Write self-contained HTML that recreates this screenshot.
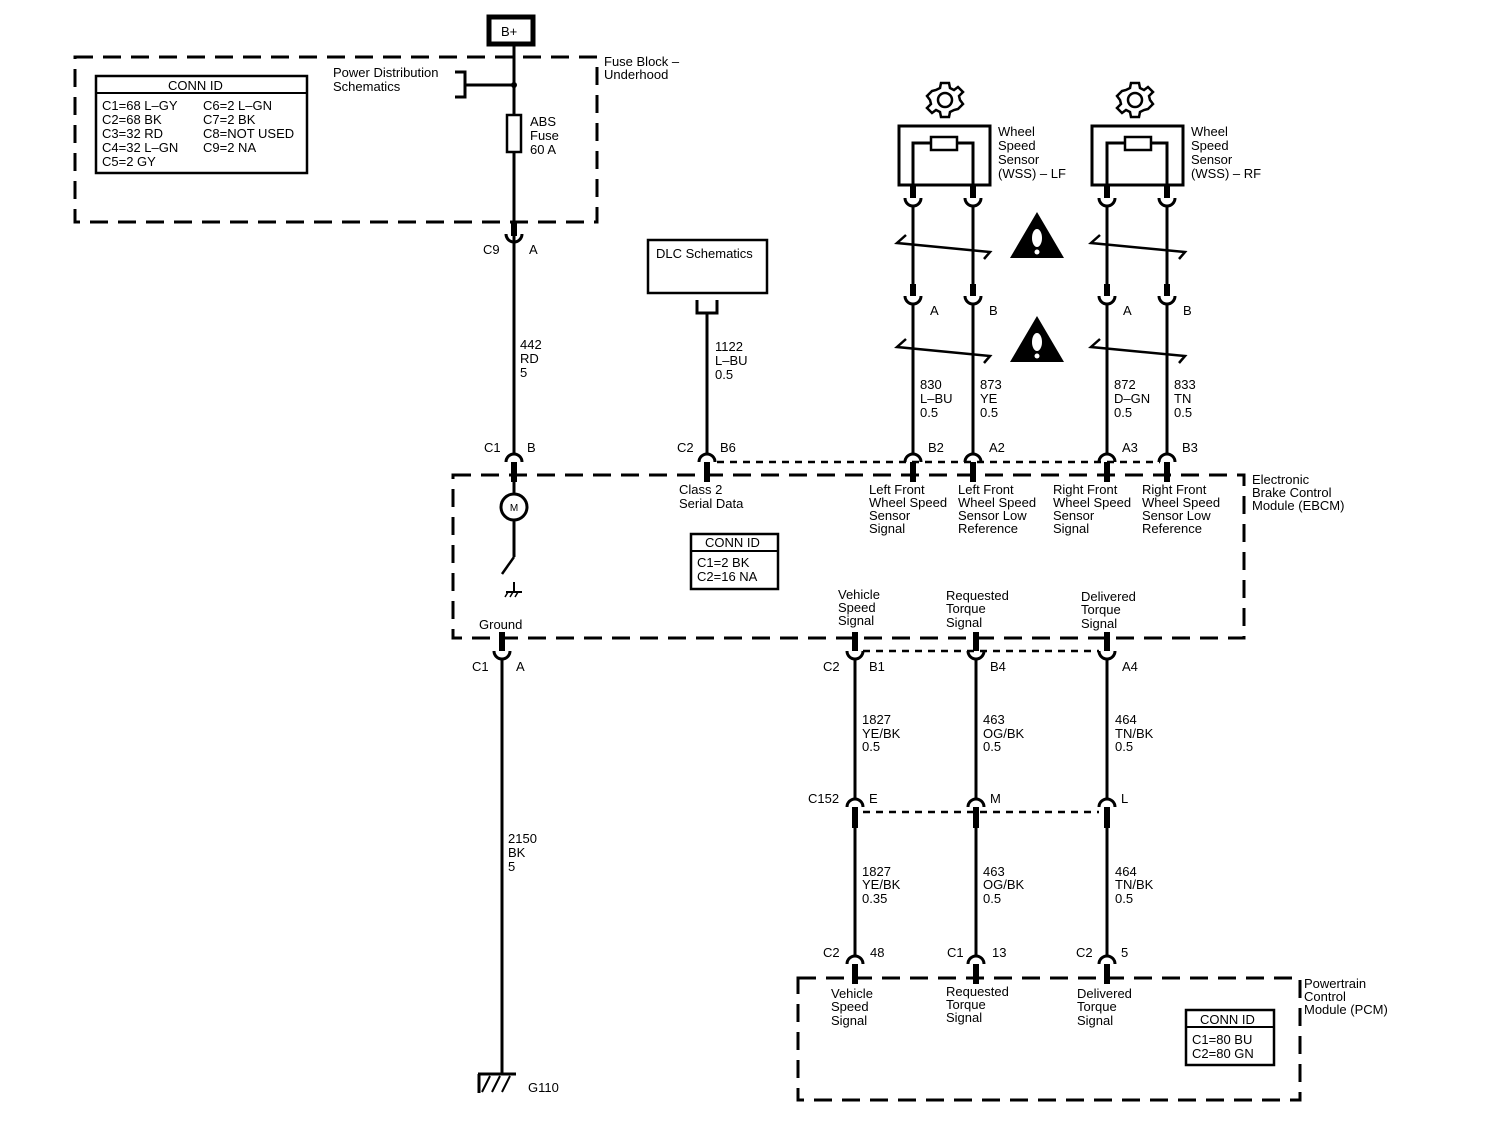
<!DOCTYPE html>
<html><head><meta charset="utf-8"><style>
html,body{margin:0;padding:0;background:#fff}
svg{display:block}
text{font-family:"Liberation Sans",Arial,sans-serif;font-size:13px;fill:#000}
</style></head><body>
<svg width="1504" height="1136" viewBox="0 0 1504 1136" xmlns="http://www.w3.org/2000/svg">
<g fill="none" stroke="#000" stroke-width="3">
<rect x="75" y="57" width="522" height="165" stroke-dasharray="18,10"/>
<rect x="453" y="475" width="791" height="163" stroke-dasharray="18,10"/>
<rect x="798" y="978" width="502" height="122" stroke-dasharray="18,10"/>
<rect x="489" y="17" width="44" height="27" stroke-width="5"/>
<rect x="96" y="76" width="211" height="97" stroke-width="2.5"/>
<line x1="96" y1="93" x2="307" y2="93" stroke-width="2"/>
<polyline points="455,72 465,72 465,97 455,97" />
<line x1="465" y1="85" x2="514" y2="85"/>
<line x1="514" y1="44" x2="514" y2="222"/>
<rect x="507" y="115" width="14" height="37" fill="#fff" stroke-width="2.5"/>
<rect x="648" y="240" width="119" height="53" stroke-width="2.5"/>
<polyline points="697,300 697,313 717,313 717,300"/>
<line x1="707" y1="313" x2="707" y2="455"/>
<line x1="514" y1="222" x2="514" y2="236" stroke-width="6"/>
<path d="M506 234 A8 8 0 0 0 522 234"/>
<line x1="514" y1="236" x2="514" y2="455"/>
<g>
<path d="M506 462 A8 8 0 0 1 522 462"/><line x1="514" y1="462" x2="514" y2="482" stroke-width="6"/>
<path d="M699 462 A8 8 0 0 1 715 462"/><line x1="707" y1="462" x2="707" y2="482" stroke-width="6"/>
<path d="M905 462 A8 8 0 0 1 921 462"/><line x1="913" y1="462" x2="913" y2="482" stroke-width="6"/>
<path d="M965 462 A8 8 0 0 1 981 462"/><line x1="973" y1="462" x2="973" y2="482" stroke-width="6"/>
<path d="M1099 462 A8 8 0 0 1 1115 462"/><line x1="1107" y1="462" x2="1107" y2="482" stroke-width="6"/>
<path d="M1159 462 A8 8 0 0 1 1175 462"/><line x1="1167" y1="462" x2="1167" y2="482" stroke-width="6"/>
</g>
<line x1="717" y1="462" x2="1160" y2="462" stroke-dasharray="7,6" stroke-width="2.5"/>
<rect x="899" y="126" width="91" height="59"/>
<rect x="1092" y="126" width="91" height="59"/>
<polyline points="913,185 913,143 931,143"/><polyline points="973,185 973,143 957,143"/>
<rect x="931" y="137" width="26" height="13" stroke-width="2.5"/>
<polyline points="1107,185 1107,143 1125,143"/><polyline points="1167,185 1167,143 1151,143"/>
<rect x="1125" y="137" width="26" height="13" stroke-width="2.5"/>
<g>
<line x1="913" y1="185" x2="913" y2="198" stroke-width="6"/><line x1="973" y1="185" x2="973" y2="198" stroke-width="6"/>
<line x1="1107" y1="185" x2="1107" y2="198" stroke-width="6"/><line x1="1167" y1="185" x2="1167" y2="198" stroke-width="6"/>
<path d="M905 198 A8 8 0 0 0 921 198"/><path d="M965 198 A8 8 0 0 0 981 198"/>
<path d="M1099 198 A8 8 0 0 0 1115 198"/><path d="M1159 198 A8 8 0 0 0 1175 198"/>
<line x1="913" y1="206" x2="913" y2="284"/><line x1="973" y1="206" x2="973" y2="284"/>
<line x1="1107" y1="206" x2="1107" y2="284"/><line x1="1167" y1="206" x2="1167" y2="284"/>
<line x1="913" y1="284" x2="913" y2="296" stroke-width="6"/><line x1="973" y1="284" x2="973" y2="296" stroke-width="6"/>
<line x1="1107" y1="284" x2="1107" y2="296" stroke-width="6"/><line x1="1167" y1="284" x2="1167" y2="296" stroke-width="6"/>
<path d="M905 296 A8 8 0 0 0 921 296"/><path d="M965 296 A8 8 0 0 0 981 296"/>
<path d="M1099 296 A8 8 0 0 0 1115 296"/><path d="M1159 296 A8 8 0 0 0 1175 296"/>
<line x1="913" y1="304" x2="913" y2="455"/><line x1="973" y1="304" x2="973" y2="455"/>
<line x1="1107" y1="304" x2="1107" y2="455"/><line x1="1167" y1="304" x2="1167" y2="455"/>
</g>
<g stroke-width="2.5">
<polyline points="906,235 897,243 990,252 984,259"/>
<polyline points="906,339 897,347 990,356 984,363"/>
<polyline points="1100,235 1091,243 1185,252 1179,259"/>
<polyline points="1100,339 1091,347 1185,356 1179,363"/>
</g>
<line x1="514" y1="482" x2="514" y2="494"/>
<circle cx="514" cy="507" r="13" fill="#fff"/>
<line x1="514" y1="520" x2="514" y2="557"/>
<line x1="514" y1="557" x2="502" y2="574" stroke-width="2.5"/>
<line x1="514" y1="582" x2="514" y2="592" stroke-width="2"/>
<line x1="506" y1="592" x2="522" y2="592" stroke-width="2"/>
<g stroke-width="1.5"><line x1="508" y1="592" x2="505" y2="597"/><line x1="513" y1="592" x2="510" y2="597"/><line x1="518" y1="592" x2="515" y2="597"/></g>
<line x1="502" y1="632" x2="502" y2="651" stroke-width="6"/>
<path d="M494 651 A8 8 0 0 0 510 651"/>
<line x1="502" y1="659" x2="502" y2="1074"/>
<g>
<line x1="855" y1="632" x2="855" y2="651" stroke-width="6"/><path d="M847 651 A8 8 0 0 0 863 651"/>
<line x1="976" y1="632" x2="976" y2="651" stroke-width="6"/><path d="M968 651 A8 8 0 0 0 984 651"/>
<line x1="1107" y1="632" x2="1107" y2="651" stroke-width="6"/><path d="M1099 651 A8 8 0 0 0 1115 651"/>
<line x1="855" y1="659" x2="855" y2="799"/><line x1="976" y1="659" x2="976" y2="799"/><line x1="1107" y1="659" x2="1107" y2="799"/>
<path d="M847 807 A8 8 0 0 1 863 807"/><path d="M968 807 A8 8 0 0 1 984 807"/><path d="M1099 807 A8 8 0 0 1 1115 807"/>
<line x1="855" y1="807" x2="855" y2="828" stroke-width="6"/><line x1="976" y1="807" x2="976" y2="828" stroke-width="6"/><line x1="1107" y1="807" x2="1107" y2="828" stroke-width="6"/>
<line x1="855" y1="828" x2="855" y2="956"/><line x1="976" y1="828" x2="976" y2="956"/><line x1="1107" y1="828" x2="1107" y2="956"/>
<path d="M847 964 A8 8 0 0 1 863 964"/><path d="M968 964 A8 8 0 0 1 984 964"/><path d="M1099 964 A8 8 0 0 1 1115 964"/>
<line x1="855" y1="964" x2="855" y2="984" stroke-width="6"/><line x1="976" y1="964" x2="976" y2="984" stroke-width="6"/><line x1="1107" y1="964" x2="1107" y2="984" stroke-width="6"/>
</g>
<line x1="863" y1="651" x2="1099" y2="651" stroke-dasharray="7,6" stroke-width="2.5"/>
<line x1="863" y1="812" x2="1099" y2="812" stroke-dasharray="7,6" stroke-width="2.5"/>
<rect x="1186" y="1010" width="88" height="55" stroke-width="2.5"/>
<line x1="1186" y1="1027" x2="1274" y2="1027" stroke-width="2"/>
<rect x="691" y="534" width="87" height="55" stroke-width="2.5"/>
<line x1="691" y1="551" x2="778" y2="551" stroke-width="2"/>
<line x1="478" y1="1074" x2="516" y2="1074"/>
<line x1="479" y1="1074" x2="479" y2="1093"/>
<g stroke-width="2"><line x1="490" y1="1076" x2="482" y2="1092"/><line x1="500" y1="1076" x2="492" y2="1092"/><line x1="510" y1="1076" x2="502" y2="1092"/></g>
<g stroke-width="2.5">
<g transform="translate(945,100)">
<path d="M-4,-17 L4,-17 L5,-12 L9,-10 L13,-13 L18,-8 L14,-4 L15,0 L15,0 L18,4 L13,9 L9,10 L5,12 L4,17 L-4,17 L-5,12 L-9,10 L-13,13 L-18,8 L-14,4 L-15,0 L-18,-4 L-13,-9 L-9,-10 L-5,-12 Z" fill="#fff"/>
<circle r="7"/></g>
<g transform="translate(1135,100)">
<path d="M-4,-17 L4,-17 L5,-12 L9,-10 L13,-13 L18,-8 L14,-4 L15,0 L15,0 L18,4 L13,9 L9,10 L5,12 L4,17 L-4,17 L-5,12 L-9,10 L-13,13 L-18,8 L-14,4 L-15,0 L-18,-4 L-13,-9 L-9,-10 L-5,-12 Z" fill="#fff"/>
<circle r="7"/></g>
</g>
</g>
<circle cx="514" cy="85" r="3"/>
<g>
<polygon points="1037,212 1064,258 1010,258"/>
<polygon points="1037,316 1064,362 1010,362"/>
<g fill="#fff"><ellipse cx="1037" cy="238" rx="5" ry="9"/><circle cx="1037" cy="252" r="2.5"/>
<ellipse cx="1037" cy="342" rx="5" ry="9"/><circle cx="1037" cy="356" r="2.5"/></g>
</g>
<text x="501" y="36">B+</text>
<text x="333" y="77">Power Distribution</text><text x="333" y="91">Schematics</text>
<text x="604" y="66">Fuse Block –</text><text x="604" y="79">Underhood</text>
<text x="168" y="90">CONN ID</text>
<text x="102" y="110">C1=68 L–GY</text><text x="102" y="124">C2=68 BK</text><text x="102" y="138">C3=32 RD</text><text x="102" y="152">C4=32 L–GN</text><text x="102" y="166">C5=2 GY</text>
<text x="203" y="110">C6=2 L–GN</text><text x="203" y="124">C7=2 BK</text><text x="203" y="138">C8=NOT USED</text><text x="203" y="152">C9=2 NA</text>
<text x="530" y="126">ABS</text><text x="530" y="140">Fuse</text><text x="530" y="154">60 A</text>
<text x="483" y="254">C9</text><text x="529" y="254">A</text>
<text x="520" y="349">442</text><text x="520" y="363">RD</text><text x="520" y="377">5</text>
<text x="656" y="258">DLC Schematics</text>
<text x="715" y="351">1122</text><text x="715" y="365">L–BU</text><text x="715" y="379">0.5</text>
<text x="998" y="136">Wheel</text><text x="998" y="150">Speed</text><text x="998" y="164">Sensor</text><text x="998" y="178">(WSS) – LF</text>
<text x="1191" y="136">Wheel</text><text x="1191" y="150">Speed</text><text x="1191" y="164">Sensor</text><text x="1191" y="178">(WSS) – RF</text>
<text x="930" y="315">A</text><text x="989" y="315">B</text><text x="1123" y="315">A</text><text x="1183" y="315">B</text>
<text x="920" y="389">830</text><text x="920" y="403">L–BU</text><text x="920" y="417">0.5</text>
<text x="980" y="389">873</text><text x="980" y="403">YE</text><text x="980" y="417">0.5</text>
<text x="1114" y="389">872</text><text x="1114" y="403">D–GN</text><text x="1114" y="417">0.5</text>
<text x="1174" y="389">833</text><text x="1174" y="403">TN</text><text x="1174" y="417">0.5</text>
<text x="484" y="452">C1</text><text x="527" y="452">B</text>
<text x="677" y="452">C2</text><text x="720" y="452">B6</text>
<text x="928" y="452">B2</text><text x="989" y="452">A2</text><text x="1122" y="452">A3</text><text x="1182" y="452">B3</text>
<text x="1252" y="484">Electronic</text><text x="1252" y="497">Brake Control</text><text x="1252" y="510">Module (EBCM)</text>
<text x="679" y="494">Class 2</text><text x="679" y="508">Serial Data</text>
<text x="869" y="494">Left Front</text><text x="869" y="507">Wheel Speed</text><text x="869" y="520">Sensor</text><text x="869" y="533">Signal</text>
<text x="958" y="494">Left Front</text><text x="958" y="507">Wheel Speed</text><text x="958" y="520">Sensor Low</text><text x="958" y="533">Reference</text>
<text x="1053" y="494">Right Front</text><text x="1053" y="507">Wheel Speed</text><text x="1053" y="520">Sensor</text><text x="1053" y="533">Signal</text>
<text x="1142" y="494">Right Front</text><text x="1142" y="507">Wheel Speed</text><text x="1142" y="520">Sensor Low</text><text x="1142" y="533">Reference</text>
<text x="705" y="547">CONN ID</text><text x="697" y="567">C1=2 BK</text><text x="697" y="581">C2=16 NA</text>
<text x="514" y="511" text-anchor="middle" style="font-size:10px">M</text>
<text x="479" y="629">Ground</text>
<text x="838" y="599">Vehicle</text><text x="838" y="612">Speed</text><text x="838" y="625">Signal</text>
<text x="946" y="600">Requested</text><text x="946" y="613">Torque</text><text x="946" y="627">Signal</text>
<text x="1081" y="601">Delivered</text><text x="1081" y="614">Torque</text><text x="1081" y="628">Signal</text>
<text x="472" y="671">C1</text><text x="516" y="671">A</text>
<text x="823" y="671">C2</text><text x="869" y="671">B1</text><text x="990" y="671">B4</text><text x="1122" y="671">A4</text>
<text x="862" y="724">1827</text><text x="862" y="738">YE/BK</text><text x="862" y="751">0.5</text>
<text x="983" y="724">463</text><text x="983" y="738">OG/BK</text><text x="983" y="751">0.5</text>
<text x="1115" y="724">464</text><text x="1115" y="738">TN/BK</text><text x="1115" y="751">0.5</text>
<text x="808" y="803">C152</text><text x="869" y="803">E</text><text x="990" y="803">M</text><text x="1121" y="803">L</text>
<text x="508" y="843">2150</text><text x="508" y="857">BK</text><text x="508" y="871">5</text>
<text x="862" y="876">1827</text><text x="862" y="889">YE/BK</text><text x="862" y="903">0.35</text>
<text x="983" y="876">463</text><text x="983" y="889">OG/BK</text><text x="983" y="903">0.5</text>
<text x="1115" y="876">464</text><text x="1115" y="889">TN/BK</text><text x="1115" y="903">0.5</text>
<text x="823" y="957">C2</text><text x="870" y="957">48</text><text x="947" y="957">C1</text><text x="992" y="957">13</text><text x="1076" y="957">C2</text><text x="1121" y="957">5</text>
<text x="1304" y="988">Powertrain</text><text x="1304" y="1001">Control</text><text x="1304" y="1014">Module (PCM)</text>
<text x="831" y="998">Vehicle</text><text x="831" y="1011">Speed</text><text x="831" y="1025">Signal</text>
<text x="946" y="996">Requested</text><text x="946" y="1009">Torque</text><text x="946" y="1022">Signal</text>
<text x="1077" y="998">Delivered</text><text x="1077" y="1011">Torque</text><text x="1077" y="1025">Signal</text>
<text x="1200" y="1024">CONN ID</text><text x="1192" y="1044">C1=80 BU</text><text x="1192" y="1058">C2=80 GN</text>
<text x="528" y="1092">G110</text>
</svg>
</body></html>
